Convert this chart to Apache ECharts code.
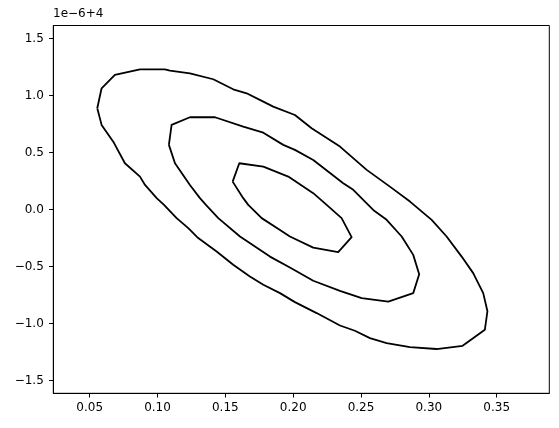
<!DOCTYPE html>
<html>
<head>
<meta charset="utf-8">
<script src="https://cdn.jsdelivr.net/npm/echarts@6/dist/echarts.min.js"></script>
<style>
html,body{margin:0;padding:0;background:#fff;}
#chart{width:559px;height:428px;}
</style>
</head>
<body>
<div id="chart"></div>
<script>
// Contour levels (x, y offset in units of 1e-6 relative to 4)
var outerX = [0.0556,0.0588,0.0686,0.0871,0.1055,0.1092,0.1239,0.1411,0.1558,0.1657,0.1780,0.1853,0.2013,0.2136,0.2345,0.2542,0.2713,0.2861,0.3021,0.3131,0.3242,0.3327,0.3401,0.3432,0.3413,0.3249,0.3057,0.2861,0.2689,0.2566,0.2455,0.2345,0.2173,0.2013,0.1903,0.1780,0.1681,0.1558,0.1436,0.1300,0.1227,0.1141,0.1048,0.0994,0.0908,0.0871,0.0760,0.0674,0.0588,0.0556];
var outerY = [0.888,1.063,1.180,1.229,1.229,1.217,1.194,1.142,1.054,1.019,0.946,0.902,0.829,0.713,0.552,0.348,0.201,0.070,-0.090,-0.236,-0.412,-0.557,-0.732,-0.891,-1.053,-1.194,-1.222,-1.205,-1.170,-1.126,-1.062,-1.016,-0.907,-0.811,-0.732,-0.659,-0.587,-0.484,-0.368,-0.250,-0.163,-0.075,0.041,0.100,0.216,0.289,0.406,0.595,0.742,0.888];

var middleX = [0.1084,0.1104,0.1239,0.1424,0.1632,0.1780,0.1927,0.2013,0.2148,0.2369,0.2443,0.2590,0.2689,0.2800,0.2885,0.2929,0.2885,0.2701,0.2505,0.2345,0.2148,0.1976,0.1829,0.1608,0.1448,0.1357,0.1313,0.1239,0.1129,0.1084];
var middleY = [0.567,0.742,0.809,0.809,0.727,0.674,0.567,0.523,0.435,0.231,0.173,-0.003,-0.090,-0.236,-0.397,-0.566,-0.732,-0.806,-0.776,-0.712,-0.624,-0.508,-0.412,-0.236,-0.075,0.041,0.100,0.216,0.406,0.567];

var innerX = [0.1554,0.1603,0.1780,0.1964,0.2148,0.2247,0.2357,0.2431,0.2332,0.2148,0.1976,0.1903,0.1768,0.1669,0.1632,0.1554];
var innerY = [0.245,0.406,0.377,0.289,0.144,0.041,-0.075,-0.242,-0.373,-0.333,-0.236,-0.178,-0.075,0.041,0.100,0.245];

var xTicks = [0.05,0.10,0.15,0.20,0.25,0.30,0.35];
var yTicks = [-1.5,-1.0,-0.5,0.0,0.5,1.0,1.5];
var offsetLabel = '1e\u22126+4';

function pairs(xs, ys){ var out=[]; for(var i=0;i<xs.length;i++){ out.push([xs[i], ys[i]]); } return out; }

var chart = echarts.init(document.getElementById('chart'), null, {renderer:'canvas'});
var FONT = 'DejaVu Sans';
function lineSeries(xs, ys){
  return {
    type:'line', data: pairs(xs, ys), showSymbol:false, symbol:'none',
    lineStyle:{color:'#000', width:1.8, join:'round'},
    silent:true, animation:false, z:3
  };
}
chart.setOption({
  animation:false,
  backgroundColor:'#fff',
  grid:{left:53.3, right:9.7, top:25.5, bottom:34.7, show:true, borderColor:'#000', borderWidth:1, containLabel:false},
  graphic:[{
    type:'text', left:53, top:8,
    style:{text:offsetLabel, font:'12px "DejaVu Sans"', fill:'#000'}
  }],
  xAxis:{
    type:'value', min:0.0232, max:0.3888,
    axisLine:{show:true, onZero:false, lineStyle:{color:'#000', width:1}},
    axisTick:{show:true, inside:false, length:4.2, customValues:xTicks, lineStyle:{color:'#000', width:1}},
    axisLabel:{show:true, customValues:xTicks, margin:8.5, color:'#000', fontFamily:FONT, fontSize:12,
      formatter:function(v){ return v.toFixed(2); }},
    splitLine:{show:false}
  },
  yAxis:{
    type:'value', min:-1.61, max:1.613,
    axisLine:{show:true, onZero:false, lineStyle:{color:'#000', width:1}},
    axisTick:{show:true, inside:false, length:4.2, customValues:yTicks, lineStyle:{color:'#000', width:1}},
    axisLabel:{show:true, customValues:yTicks, margin:9.5, color:'#000', fontFamily:FONT, fontSize:12,
      formatter:function(v){ return v.toFixed(1).replace('-', '\u2212'); }},
    splitLine:{show:false}
  },
  series:[lineSeries(outerX, outerY), lineSeries(middleX, middleY), lineSeries(innerX, innerY)]
});
</script>
</body>
</html>
